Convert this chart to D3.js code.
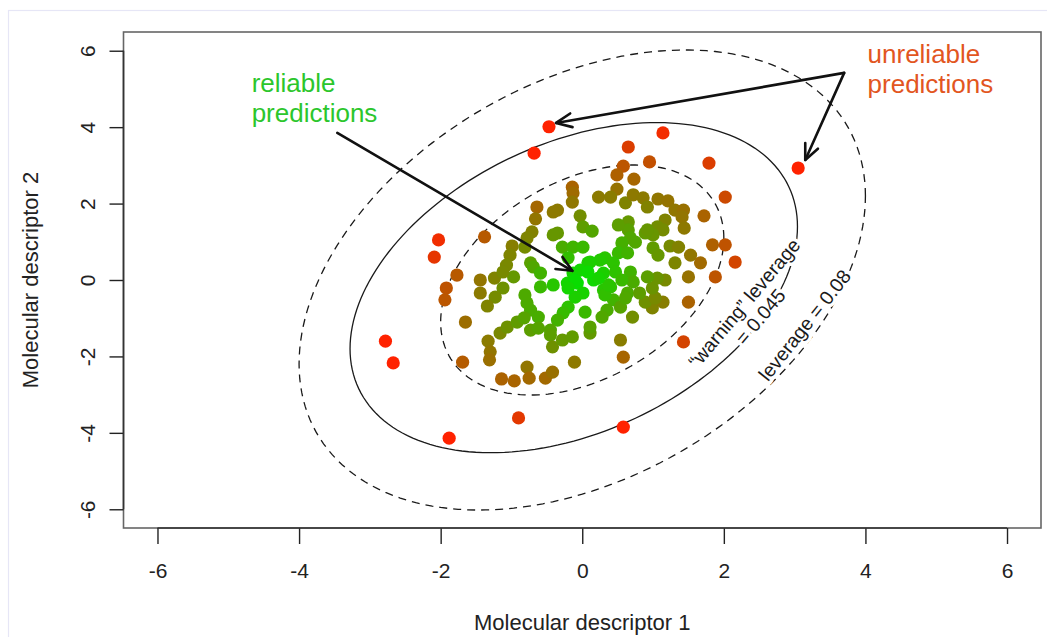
<!DOCTYPE html>
<html>
<head>
<meta charset="utf-8">
<script src="https://cdn.jsdelivr.net/npm/d3@7"></script>
<style>
  html, body { margin: 0; padding: 0; background: #ffffff; }
  svg { display: block; }
  text { font-family: "Liberation Sans", Arial, Helvetica, sans-serif; }
</style>
</head>
<body>
<svg id="chart" width="1047" height="637"></svg>
<script>
// Molecular descriptor values for each compound
const descriptor1 = [
  -0.47, -0.68, 1.14, 0.65, 1.79, 3.05, -2.03, -2.09, -2.78, -2.67,
  -1.88, -0.90, 0.58, 1.43, 2.16, 2.02, 0.95, 0.58, -1.38, -1.77,
  -1.92, -1.94, -1.69, -1.65, 0.49, 0.73, -0.14, -0.13, -0.14, 0.49,
  0.23, 0.40, 0.61, 0.72, 0.86, 0.92, 1.07, 1.21, 1.31, 1.43,
  1.41, 1.72, 1.44, 1.17, 1.06, 1.14, 1.00, 0.89, 0.65, 0.65,
  0.51, 0.68, 0.56, -0.03, 0.01, 0.14, -0.35, -0.35, -0.28, -0.13,
  0.01, 0.32, 0.51, 0.64, 0.75, 1.00, 1.07, 1.24, 1.36, 1.53,
  1.67, 1.84, 2.02, -0.20, 0.08, -0.64, -0.41, -0.66, -0.71, -0.78,
  -0.41, -0.99, -1.02, -0.81, -0.73, -1.07, -0.13, -0.03, -0.07, -0.21,
  0.01, 0.16, 0.30, 0.25, 0.11, 0.44, 0.40, 0.30, 0.68, 0.72,
  0.64, 0.44, 0.35, 0.54, 0.28, 0.04, -0.20, -0.27, -0.35, -0.45,
  -0.73, -0.78, -0.81, -0.59, -0.41, -0.69, -0.59, -1.24, -0.97, -1.12,
  -1.23, -1.44, -1.44, -1.34, -1.12, -1.33, -1.30, -1.31, -1.14, -0.96,
  -0.78, -0.75, -0.52, -0.42, -1.16, -1.06, -0.92, -0.82, -0.73, -0.62,
  -0.62, -0.45, -0.42, -0.28, -0.14, 0.11, 0.11, 0.54, 0.58, -0.11,
  0.71, 0.99, 1.14, 0.89, 1.03, 0.99, 1.17, 1.06, 0.92, 0.61,
  -0.10, 0.32, 0.37, 0.23, 0.08, -0.10, -0.20, 0.47, 0.56, 1.50,
  1.88, 1.50, 1.31, 0.92, 0.81
];
const descriptor2 = [
  4.01, 3.32, 3.85, 3.48, 3.06, 2.93, 1.05, 0.60, -1.60, -2.17,
  -4.14, -3.61, -3.85, -1.62, 0.47, 2.17, 3.09, 2.98, 1.13, 0.13,
  -0.21, -0.52, -2.15, -1.10, 2.75, 2.64, 2.43, 2.28, 2.04, 2.38,
  2.17, 2.17, 2.02, 2.23, 2.15, 1.91, 2.12, 2.07, 1.83, 1.83,
  1.65, 1.68, 1.36, 1.57, 1.39, 1.31, 1.18, 1.23, 1.52, 1.31,
  1.44, 1.10, 0.97, 1.68, 1.39, 1.28, 1.83, 1.23, 0.86, 0.86,
  0.86, 0.58, 0.71, 0.71, 0.99, 0.84, 0.65, 0.89, 0.86, 0.65,
  0.45, 0.92, 0.92, 0.58, 0.45, 1.91, 1.78, 1.60, 1.26, 1.10,
  1.18, 0.89, 0.65, 0.86, 0.45, 0.39, 0.18, 0.26, -0.08, -0.08,
  -0.34, 0.00, 0.18, 0.52, 0.47, 0.45, -0.18, -0.26, 0.21, -0.05,
  -0.34, -0.52, -0.79, -0.71, -0.97, -0.84, -0.71, -0.86, -1.05, -1.31,
  -0.79, -0.60, -0.39, -0.18, -0.13, 0.34, 0.18, 0.05, 0.08, -0.21,
  -0.45, 0.00, -0.34, -0.68, 0.21, -1.60, -1.88, -2.09, -2.59, -2.64,
  -2.28, -2.57, -2.57, -2.41, -1.39, -1.23, -1.10, -0.99, -1.31, -0.97,
  -1.26, -1.44, -1.75, -1.57, -1.49, -1.39, -1.23, -1.57, -2.02, -2.15,
  -0.97, -0.73, -0.58, -0.58, -0.47, -0.21, 0.00, 0.05, 0.08, -0.47,
  -0.45, -0.39, -0.13, 0.05, 0.21, 0.00, -0.21, 0.21, 0.00, 0.08,
  0.08, -0.58, 0.45, 1.31, -0.34
];

// Axis ticks
const tickValues = [-6, -4, -2, 0, 2, 4, 6];

// Leverage contours: centre, spread along each descriptor, correlation, line style
const contourNames = ["core", "warning", "limit"];
const contourCx    = [0, -0.12, 0];
const contourCy    = [0, -0.20, 0];
const contourSdx   = [2.0, 3.16, 4.0];
const contourSdy   = [3.01, 4.32, 6.02];
const contourRho   = [0.365, 0.37, 0.365];
const contourDash  = ["8,6", null, "8,6"];

// Annotation labels
const reliableLines   = ["reliable", "predictions"];
const unreliableLines = ["unreliable", "predictions"];
const warningLines    = ["\u201cwarning\u201d leverage", "= 0.045"];
const limitLabel      = "leverage = 0.08";

const W = 1047, H = 637;
const svg = d3.select("#chart");

// outer light frame
svg.append("rect")
  .attr("x", 8.5).attr("y", 10.5)
  .attr("width", W).attr("height", H)
  .attr("fill", "none").attr("stroke", "#e6e6f6").attr("stroke-width", 1.2);

const plot = { left: 123.5, right: 1041, top: 32, bottom: 528 };

const x = d3.scaleLinear().domain([-6.48, 6.48]).range([plot.left, plot.right]);
const y = d3.scaleLinear().domain([-6.49, 6.49]).range([plot.bottom, plot.top]);

// Ellipse contours
const ts = d3.range(0, 361, 2).map(d => d * Math.PI / 180);
const line = d3.line().curve(d3.curveLinearClosed);
contourNames.forEach((name, i) => {
  const sx = contourSdx[i], sy = contourSdy[i], r = contourRho[i];
  const pts = ts.map(t => {
    const dx = sx * Math.cos(t);
    const dy = sy * (r * Math.cos(t) + Math.sqrt(1 - r * r) * Math.sin(t));
    return [x(contourCx[i] + dx), y(contourCy[i] + dy)];
  });
  svg.append("path")
    .attr("class", "contour-" + name)
    .attr("d", line(pts))
    .attr("fill", "none")
    .attr("stroke", "#1a1a1a")
    .attr("stroke-width", 1.3)
    .attr("stroke-dasharray", contourDash[i]);
});

// Colour each compound by its distance from the centre of the descriptor space
const s0 = contourSdx[0], s1 = contourSdy[0], rr = contourRho[0];
function distance(a, b) {
  const u = a / s0, v = b / s1;
  return Math.sqrt((u * u - 2 * rr * u * v + v * v) / (1 - rr * rr));
}
const colour = d3.scaleLinear().domain([0, 1.35]).range(["#00e400", "#ff2200"])
  .interpolate(d3.interpolateRgb).clamp(true);

const compounds = descriptor1.map((d, i) => ({ d1: d, d2: descriptor2[i] }));
svg.append("g").selectAll("circle")
  .data(compounds)
  .join("circle")
  .attr("cx", d => x(d.d1))
  .attr("cy", d => y(d.d2))
  .attr("r", 6.6)
  .attr("fill", d => colour(distance(d.d1, d.d2)));

// Contour labels, set along the curves with a white halo
function rotatedLabel(lines, px, py, angle, size, gap) {
  const g = svg.append("g").attr("transform", `translate(${x(px)},${y(py)}) rotate(${angle})`);
  lines.forEach((t, k) => {
    g.append("text")
      .attr("x", 0).attr("y", (k - (lines.length - 1) / 2) * gap)
      .attr("text-anchor", "middle").attr("dominant-baseline", "central")
      .attr("font-size", size)
      .attr("fill", "#1a1a1a")
      .attr("stroke", "#ffffff").attr("stroke-width", 7)
      .attr("paint-order", "stroke")
      .attr("stroke-linejoin", "round")
      .text(t);
  });
}
rotatedLabel(warningLines, 2.40, -0.78, -50, 19.5, 21);
rotatedLabel([limitLabel], 3.14, -1.18, -51.5, 19.5, 21);

// Frame and axes
svg.append("rect")
  .attr("x", plot.left).attr("y", plot.top)
  .attr("width", plot.right - plot.left).attr("height", plot.bottom - plot.top)
  .attr("fill", "none").attr("stroke", "#666").attr("stroke-width", 1.6);

const fmt = d => String(d);
const xAxis = svg.append("g").attr("transform", `translate(0,${plot.bottom})`)
  .call(d3.axisBottom(x).tickValues(tickValues).tickSizeOuter(0).tickSize(16).tickFormat(fmt));
const yAxis = svg.append("g").attr("transform", `translate(${plot.left},0)`)
  .call(d3.axisLeft(y).tickValues(tickValues).tickSizeOuter(0).tickSize(14).tickFormat(fmt));
[xAxis, yAxis].forEach(a => {
  a.select(".domain").remove();
  a.selectAll("line").attr("stroke", "#222").attr("stroke-width", 1.4);
  a.selectAll("text").attr("font-size", 21).attr("fill", "#222")
    .attr("font-family", "Liberation Sans, Arial, sans-serif");
});
// axis lines span first to last tick
xAxis.append("line").attr("x1", x(-6)).attr("x2", x(6)).attr("y1", 0).attr("y2", 0)
  .attr("stroke", "#333").attr("stroke-width", 1.6);
yAxis.append("line").attr("y1", y(-6)).attr("y2", y(6)).attr("x1", 0).attr("x2", 0)
  .attr("stroke", "#333").attr("stroke-width", 1.6);
xAxis.selectAll(".tick text")
  .attr("y", 42).attr("dy", 0)
  .attr("dominant-baseline", "central");
yAxis.selectAll(".tick text")
  .attr("transform", "rotate(-90)")
  .attr("x", 0).attr("dy", 0).attr("y", -36)
  .attr("text-anchor", "middle")
  .attr("dominant-baseline", "central");

svg.append("text")
  .attr("x", x(0)).attr("y", 622)
  .attr("text-anchor", "middle").attr("dominant-baseline", "central")
  .attr("font-size", 22).attr("fill", "#222")
  .text("Molecular descriptor 1");
svg.append("text")
  .attr("transform", `translate(30,${y(0)}) rotate(-90)`)
  .attr("text-anchor", "middle").attr("dominant-baseline", "central")
  .attr("font-size", 22).attr("fill", "#222")
  .text("Molecular descriptor 2");

// Annotation text
function block(lines, px, py, colourValue) {
  lines.forEach((t, k) => {
    svg.append("text")
      .attr("x", x(px)).attr("y", y(py) + k * 30)
      .attr("font-size", 26).attr("fill", colourValue)
      .text(t);
  });
}
block(reliableLines, -4.67, 4.92, "#2cc62c");
block(unreliableLines, 4.03, 5.68, "#e2561f");

// Arrows with open heads
function arrow(x0, y0, x1, y1) {
  const ax = x(x0), ay = y(y0), bx = x(x1), by = y(y1);
  const ang = Math.atan2(by - ay, bx - ax);
  const len = 17, spread = 0.42;
  svg.append("line")
    .attr("x1", ax).attr("y1", ay).attr("x2", bx).attr("y2", by)
    .attr("stroke", "#111").attr("stroke-width", 2.6).attr("stroke-linecap", "round");
  const head = [
    [bx - len * Math.cos(ang - spread), by - len * Math.sin(ang - spread)],
    [bx, by],
    [bx - len * Math.cos(ang + spread), by - len * Math.sin(ang + spread)]
  ];
  svg.append("path")
    .attr("d", d3.line()(head))
    .attr("fill", "none").attr("stroke", "#111").attr("stroke-width", 2.6)
    .attr("stroke-linecap", "round").attr("stroke-linejoin", "round");
}
arrow(-3.46, 3.85, -0.14, 0.24);
arrow(3.70, 5.42, -0.37, 4.11);
arrow(3.70, 5.42, 3.15, 3.14);
</script>
</body>
</html>
